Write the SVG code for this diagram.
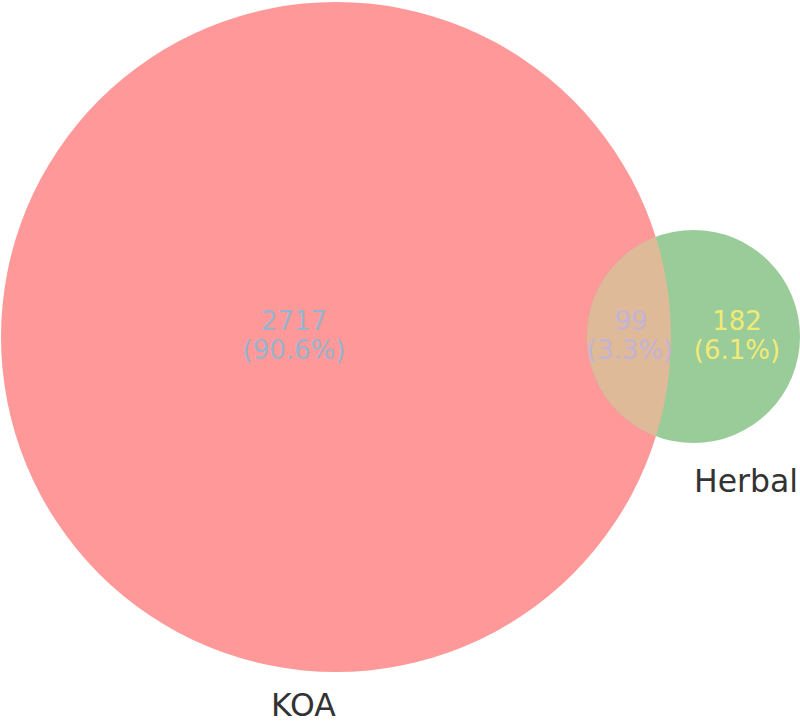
<svg xmlns="http://www.w3.org/2000/svg" width="800" height="723" viewBox="0 0 800 723">
<style>
.num{font-family:"DejaVu Sans",sans-serif;font-size:26px;text-anchor:middle}
.lbl{font-family:"DejaVu Sans",sans-serif;font-size:31.5px;fill:#333333}
</style>
<defs>
<clipPath id="clipKOA"><circle cx="336" cy="337" r="335"/></clipPath>
</defs>
<rect width="800" height="723" fill="#ffffff"/>
<g id="KOA">
<circle cx="336" cy="337" r="335" fill="#ff9999"/>
</g>
<g id="Herbal">
<circle cx="693.5" cy="336.5" r="106.5" fill="#99cc99"/>
</g>
<g id="overlap">
<circle cx="693.5" cy="336.5" r="106.5" fill="#dfba98" clip-path="url(#clipKOA)"/>
</g>
<g id="labels">
<text class="num" x="294" y="330" fill="#99b3cc">2717</text>
<text class="num" x="294" y="359" fill="#99b3cc">(90.6%)</text>
<text class="num" x="631" y="330" fill="#c3b3d6">99</text>
<text class="num" x="630" y="359" fill="#c3b3d6">(3.3%)</text>
<text class="num" x="737" y="330" fill="#f2ea77">182</text>
<text class="num" x="737" y="359" fill="#f2ea77">(6.1%)</text>
<text class="lbl" x="271" y="716">KOA</text>
<text class="lbl" x="694" y="492">Herbal</text>
</g>
<g id="connectors"/>
</svg>
